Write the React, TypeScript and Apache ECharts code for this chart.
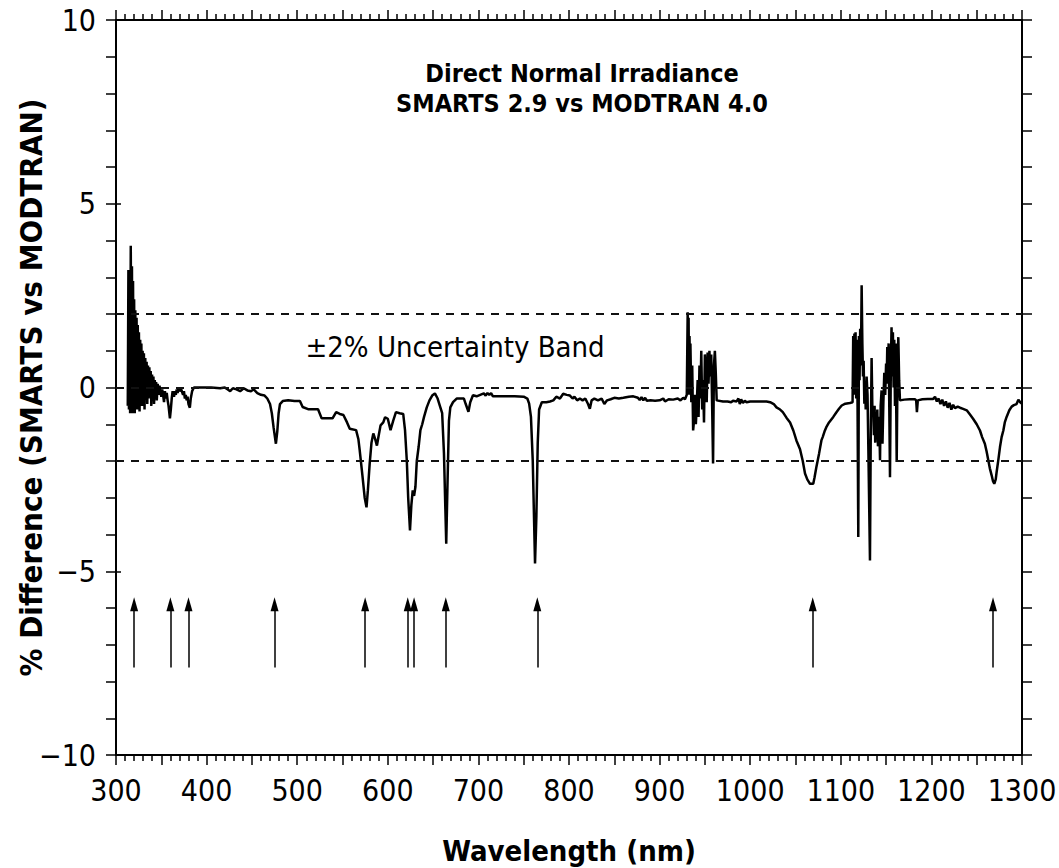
import React, { useEffect, useRef } from "react";
import * as echarts from "echarts";

type Pt = [number, number];

// Wavelength (nm), % difference
const uvSegment: Pt[] = [
  [313,-0.5],[313.7,3.2],[314.3,-0.6],[315,2.6],[315.6,-0.7],[316.3,3.86],[317,-0.65],[317.6,3.3],[318.2,-0.7],[318.8,2.9],
  [319.4,-0.5],[320,2.4],[320.7,-0.7],[321.3,2.1],[322,-0.4],[322.7,1.9],[323.3,-0.6],[324,1.7],[324.7,-0.3],[325.3,1.5],
  [326,-0.65],[326.7,1.3],[327.4,-0.2],[328,1.2],[328.7,-0.5],[329.4,1.0],[330,-0.4],[330.8,0.93],[331.5,-0.6],[332.3,0.8],
  [333,-0.2],[333.8,0.7],[334.5,-0.45],[335.3,0.6],[336,-0.3],[336.8,0.55],[337.5,-0.1],[338.3,0.45],[339,-0.5],[339.8,0.35],
  [340.5,-0.2],[341.3,0.3],[342,-0.45],[342.8,0.2],[343.5,-0.1],[344.3,0.15],[345,-0.35],[346,0.1],[347,-0.2],[348,0.05],
  [349,-0.1],[350,-0.25],[351,-0.05],[352,-0.2],[353,-0.4],[354,-0.1],[355,-0.3],[356,-0.15],[357,-0.35],[358,-0.5],
  [359.5,-0.84],[360.5,-0.6],[361.5,-0.3],[362.5,-0.1],[364,-0.25],[365,-0.1],[366,-0.2],[367,-0.05],[368,-0.15],[369,0],
  [370,-0.1],[372,-0.05],[374,-0.2],[375,-0.1],[376,-0.3],[377,-0.2],[378,-0.35],[379,-0.25],[380,-0.45],[381.5,-0.55],
  [382.5,-0.3],[384,-0.1],[386,0]
];

const visibleSegment: Pt[] = [
  [387,0],[395,0],[405,0],[415,-0.02],[420,0],[423,-0.05],[426,-0.1],[429,-0.02],[433,-0.05],[437,-0.1],[441,-0.02],
  [445,-0.08],[449,-0.1],[452,-0.05],[456,-0.15],[460,-0.2],[464,-0.22],[467,-0.3],[470,-0.45],[472,-0.7],[474,-1.1],
  [476.5,-1.53],[478,-1.2],[479.5,-0.7],[481,-0.45],[484,-0.37],[490,-0.35],[497,-0.37],[503,-0.37],[506,-0.53],[512,-0.59],
  [523,-0.59],[527,-0.84],[539,-0.84],[543,-0.67],[547,-0.72],[551,-0.75],[555,-0.95],[558,-1.12],[565,-1.16],[567.5,-1.4],
  [569,-1.71],[572,-2.4],[574.5,-3.0],[576.5,-3.26],[578,-2.8],[580,-2.07],[582,-1.5],[584,-1.25],[586,-1.4],[588,-1.58],
  [590,-1.3],[592,-1.03],[595,-0.95],[597,-0.81],[600,-0.85],[603,-1.16],[606,-0.9],[609,-0.67],[613,-0.7],[617,-0.72],
  [619,-1.16],[621,-2.0],[622.5,-3.0],[624.5,-3.89],[626,-3.2],[627.5,-2.8],[629,-2.95],[630.5,-2.7],[632,-2.0],[634,-1.62],
  [636,-1.16],[638,-1.0],[640,-0.8],[643,-0.54],[646,-0.35],[649,-0.22],[652,-0.16],[655,-0.3],[658,-0.54],[660,-0.7],
  [662,-1.8],[664.5,-4.25],[666,-2.5],[667.5,-0.9],[669,-0.54],[672,-0.4],[676,-0.3],[680,-0.3],[684,-0.3],[686,-0.45],
  [689,-0.66],[691,-0.4],[694,-0.21],[698,-0.24],[702,-0.2],[706,-0.16],[708,-0.22],[710,-0.15],[712,-0.2],[714,-0.15],
  [716,-0.24],[725,-0.24],[740,-0.24],[750,-0.25],[754,-0.3],[756,-0.44],[758,-0.8],[760,-2.0],[762.5,-4.79],[764,-3.5],
  [765.5,-1.5],[767,-0.6],[770,-0.4],[775,-0.4],[779,-0.38],[782.7,-0.35],[786,-0.25],[790,-0.3],[793.6,-0.17],[797.5,-0.2],
  [801,-0.22],[804,-0.3],[806,-0.25],[809,-0.35],[812,-0.3],[815,-0.35],[818,-0.3],[821,-0.45],[823,-0.58],[825,-0.35],
  [828,-0.3],[832,-0.35],[836,-0.3],[839,-0.45],[842,-0.35],[846,-0.32],[850,-0.28],[855,-0.3],[860,-0.28],[866,-0.25],
  [871,-0.24],[876,-0.28],[878,-0.34],[880,-0.26],[882,-0.35],[884,-0.28],[886,-0.36],[890,-0.35],[895,-0.36],[900,-0.35],
  [904,-0.3],[906,-0.38],[910,-0.32],[915,-0.33],[920,-0.3],[923,-0.35],[926,-0.28],[928,-0.32]
];

const water940Segment: Pt[] = [
  [930,-0.2],[931,2.05],[931.5,0.3],[932,1.9],[932.5,-0.2],[933,1.4],[933.5,0.5],[934,1.2],[935,-0.4],[936,0.6],
  [937,-1.17],[938,-0.9],[939,-0.2],[940,-1.0],[941,-0.5],[942,0.2],[943,-0.8],[944,0.6],[945,-0.3],[946,1.0],
  [947,-0.6],[948,0.2],[949,-0.95],[950,0.9],[951,0.3],[952,-0.4],[953,0.95],[954,0.1],[955,1.0],[956,0.3],
  [957,0.9],[958,-0.5],[959,-2.07],[960,0.6],[961,1.0],[962,0.4]
];

const nirSegment: Pt[] = [
  [963,-0.35],[970,-0.38],[975,-0.38],[979,-0.4],[981,-0.36],[985,-0.38],[987,-0.3],[988.5,-0.45],[990,-0.32],[992,-0.42],
  [994,-0.36],[996,-0.4],[1000,-0.38],[1005,-0.38],[1011,-0.38],[1018,-0.38],[1022,-0.4],[1026,-0.45],[1029,-0.54],[1033,-0.6],
  [1036,-0.67],[1040,-0.82],[1044,-0.95],[1047.6,-1.17],[1051,-1.44],[1055,-1.68],[1058,-2.0],[1060.5,-2.34],[1063,-2.5],
  [1066,-2.62],[1069.6,-2.62],[1071,-2.45],[1073,-2.17],[1076,-1.8],[1078.6,-1.44],[1080,-1.35],[1082,-1.2],[1084,-1.08],
  [1087,-0.95],[1091.7,-0.8],[1095,-0.68],[1098,-0.58],[1101,-0.49],[1105,-0.44],[1110,-0.42]
];

const water1130Segment: Pt[] = [
  [1113,-0.4],[1113.7,1.4],[1114.3,-0.2],[1115,1.47],[1115.7,0.1],[1116.3,1.5],[1117,-0.3],[1117.7,1.3],[1118.5,-0.5],
  [1119.3,-4.07],[1120,1.4],[1120.7,0.2],[1121.4,1.6],[1122.2,0.6],[1123,2.78],[1123.8,1.2],[1124.5,0.3],[1125.2,0.73],
  [1126,-0.44],[1126.8,0.1],[1127.5,-0.6],[1128.5,0.3],[1129.5,-0.2],[1130.5,-1.8],[1132.2,-4.71],[1133,-1.5],[1134,0.8],
  [1134.8,-0.5],[1135.9,-0.63],[1136.6,-1.3],[1137.3,-0.5],[1138,-1.5],[1138.7,-0.7],[1139.6,-1.17],[1140.3,-0.6],[1141,-1.6],
  [1141.5,-1.53],[1142.3,-0.8],[1143.3,-1.98],[1144,-0.5],[1145,-0.08],[1146,-1.53],[1147,-0.4],[1148,0.4],[1149,-0.2],
  [1150,0.65],[1150.6,0.1],[1151.3,1.1],[1152,0.3],[1152.8,1.2],[1153.5,-0.5],[1154.3,-2.44],[1155.2,0.5],[1156,1.64],
  [1156.8,0.3],[1157.5,1.5],[1158.3,0.0],[1159,1.3],[1159.8,-0.5],[1160.6,1.2],[1161.7,-2.03],[1162.6,0.4],[1163.5,1.37],
  [1164.4,0.2]
];

const swirSegment: Pt[] = [
  [1165.3,-0.35],[1170,-0.33],[1176,-0.32],[1182,-0.32],[1183.2,-0.35],[1184,-0.67],[1185,-0.35],[1190,-0.32],[1196,-0.31],
  [1202,-0.31],[1204,-0.25],[1206,-0.38],[1208,-0.3],[1210,-0.45],[1212,-0.33],[1214,-0.5],[1216,-0.38],[1218,-0.55],
  [1220,-0.42],[1222,-0.6],[1224,-0.47],[1226,-0.56],[1229,-0.52],[1231.6,-0.55],[1235,-0.58],[1239,-0.62],[1243,-0.75],
  [1246,-0.85],[1250,-1.0],[1253.6,-1.17],[1256,-1.35],[1259,-1.53],[1261,-1.75],[1262.8,-1.98],[1264.5,-2.2],[1266.5,-2.39],
  [1268,-2.55],[1269.4,-2.62],[1271,-2.5],[1272,-2.3],[1274,-1.95],[1275.7,-1.62],[1277.5,-1.35],[1279.4,-1.17],[1281,-0.95],
  [1283,-0.8],[1286,-0.62],[1288.6,-0.52],[1291,-0.48],[1294,-0.45],[1296,-0.33],[1298,-0.4],[1300,-0.44]
];

const arrowWavelengths = [320, 360, 380, 475, 575, 622, 629, 664, 765, 1069, 1268];
const arrowBase = -7.62;
const arrowTip = -5.9;
const bandLevels = [2, 0, -2];

const xMin = 300, xMax = 1300, xStep = 50, xLabelStep = 100;
const yMin = -10, yMax = 10, yStep = 1, yLabelStep = 5;

const titleLines = ["Direct Normal Irradiance", "SMARTS 2.9 vs MODTRAN 4.0"];
const bandLabel = "\u00B12% Uncertainty Band";
const xName = "Wavelength (nm)";
const yName = "% Difference (SMARTS vs MODTRAN)";

const FONT = "'DejaVu Sans Condensed', 'DejaVu Sans', sans-serif";

export default function App() {
  const ref = useRef<HTMLDivElement>(null);
  useEffect(() => {
    if (!ref.current) return;
    const chart = echarts.init(ref.current, null, { renderer: "svg" });
    const allData = [
      ...uvSegment, ...visibleSegment, ...water940Segment,
      ...nirSegment, ...water1130Segment, ...swirSegment,
    ];
    const axisLine = { show: true, onZero: false, lineStyle: { color: "#000", width: 2 } };
    const fmtY = (v: number) => (v % yLabelStep === 0 ? String(v).replace("-", "\u2212") : "");
    const fmtX = (v: number) => (v % xLabelStep === 0 ? String(v) : "");
    chart.setOption({
      animation: false,
      backgroundColor: "#fff",
      grid: { left: 116, right: 37, top: 20, bottom: 113, containLabel: false, outerBoundsMode: "none" },
      xAxis: [
        {
          type: "value", min: xMin, max: xMax, interval: xStep, position: "bottom",
          axisLine, splitLine: { show: false },
          axisTick: { show: true, inside: false, length: 10, lineStyle: { color: "#000", width: 1.5 } },
          minorTick: { show: true, splitNumber: 5, length: 6, lineStyle: { color: "#000", width: 1.5 } },
          axisLabel: { formatter: fmtX, color: "#000", fontSize: 30, fontFamily: FONT, margin: 20 },
          name: xName, nameLocation: "middle", nameGap: 81,
          nameTextStyle: { fontSize: 29, fontWeight: "bold", color: "#000", fontFamily: FONT },
        },
        {
          type: "value", min: xMin, max: xMax, interval: xStep, position: "top",
          axisLine, splitLine: { show: false },
          axisTick: { show: true, inside: false, length: 10, lineStyle: { color: "#000", width: 1.5 } },
          minorTick: { show: true, splitNumber: 5, length: 6, lineStyle: { color: "#000", width: 1.5 } },
          axisLabel: { show: false },
        },
      ],
      yAxis: [
        {
          type: "value", min: yMin, max: yMax, interval: yStep, position: "left",
          axisLine, splitLine: { show: false },
          axisTick: { show: true, inside: false, length: 10, lineStyle: { color: "#000", width: 1.5 } },
          axisLabel: { formatter: fmtY, color: "#000", fontSize: 30, fontFamily: FONT, margin: 20 },
          name: yName, nameLocation: "middle", nameGap: 70, nameRotate: 90, nameMoveOverlap: false,
          nameTextStyle: { fontSize: 31, fontWeight: "bold", color: "#000", fontFamily: FONT },
        },
        {
          type: "value", min: yMin, max: yMax, interval: yStep, position: "right",
          axisLine, splitLine: { show: false },
          axisTick: { show: true, inside: false, length: 10, lineStyle: { color: "#000", width: 1.5 } },
          axisLabel: { show: false },
        },
        {
          type: "value", min: yMin, max: yMax, interval: yLabelStep, position: "left",
          axisLine: { show: false }, splitLine: { show: false },
          axisTick: { show: true, inside: true, length: 5, lineStyle: { color: "#000", width: 1.5 } },
          axisLabel: { show: false },
        },
      ],
      graphic: [
        ...titleLines.map((t, i) => ({
          type: "text", x: 582, y: 73 + i * 30,
          style: {
            text: t, fill: "#000", font: `bold 25px ${FONT}`,
            textAlign: "center", textVerticalAlign: "middle",
          },
          silent: true,
        })),
        {
          type: "text", x: 455, y: 347,
          style: {
            text: bandLabel, fill: "#000", font: `29px ${FONT}`,
            textAlign: "center", textVerticalAlign: "middle",
          },
          silent: true,
        },
      ],
      series: [
        {
          type: "line", data: [], silent: true,
          markLine: {
            silent: true, symbol: "none", label: { show: false },
            lineStyle: { color: "#111", width: 2, type: [8, 7] },
            data: bandLevels.map((v) => ({ yAxis: v })),
          },
        },
        {
          type: "line", data: allData, showSymbol: false, symbol: "none",
          lineStyle: { color: "#000", width: 2.5 }, silent: true,
          z: 3,
        },
        {
          type: "line", data: [], silent: true,
          markLine: {
            silent: true, symbol: ["none", "triangle"], symbolSize: [8, 14], label: { show: false },
            lineStyle: { color: "#000", width: 1.5, type: "solid" },
            data: arrowWavelengths.map((w) => [
              { coord: [w, arrowBase] },
              { coord: [w, arrowTip] },
            ]),
          },
        },
      ],
    });
    return () => chart.dispose();
  }, []);
  return (
    <div
      ref={ref}
      style={{ position: "fixed", left: 0, top: 0, width: 1059, height: 868, background: "#fff" }}
    />
  );
}
